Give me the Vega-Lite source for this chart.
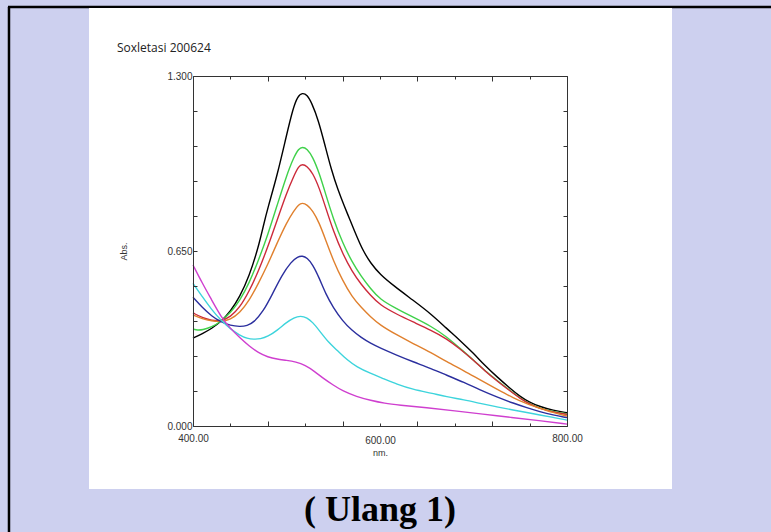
{
  "$schema": "https://vega.github.io/schema/vega-lite/v6.json",
  "width": 374,
  "height": 350,
  "autosize": "none",
  "padding": {"left": 193, "top": 76, "right": 204, "bottom": 106},
  "background": "#cdd0ef",
  "config": {"view": {"stroke": null}},
  "datasets": {
    "spectra": [
      {"series": "hitam", "nm": 400, "abs": 0.326}, {"series": "hitam", "nm": 410, "abs": 0.343}, {"series": "hitam", "nm": 420, "abs": 0.362}, {"series": "hitam", "nm": 430, "abs": 0.388}, {"series": "hitam", "nm": 440, "abs": 0.425}, {"series": "hitam", "nm": 450, "abs": 0.48}, {"series": "hitam", "nm": 460, "abs": 0.555}, {"series": "hitam", "nm": 470, "abs": 0.665}, {"series": "hitam", "nm": 475, "abs": 0.74}, {"series": "hitam", "nm": 480, "abs": 0.81}, {"series": "hitam", "nm": 490, "abs": 0.93}, {"series": "hitam", "nm": 500, "abs": 1.08}, {"series": "hitam", "nm": 507, "abs": 1.18}, {"series": "hitam", "nm": 512, "abs": 1.225}, {"series": "hitam", "nm": 517, "abs": 1.238}, {"series": "hitam", "nm": 522, "abs": 1.23}, {"series": "hitam", "nm": 527, "abs": 1.2}, {"series": "hitam", "nm": 534, "abs": 1.137}, {"series": "hitam", "nm": 541, "abs": 1.045}, {"series": "hitam", "nm": 548, "abs": 0.951}, {"series": "hitam", "nm": 555, "abs": 0.877}, {"series": "hitam", "nm": 562, "abs": 0.815}, {"series": "hitam", "nm": 568, "abs": 0.765}, {"series": "hitam", "nm": 575, "abs": 0.705}, {"series": "hitam", "nm": 582, "abs": 0.65}, {"series": "hitam", "nm": 590, "abs": 0.605}, {"series": "hitam", "nm": 600, "abs": 0.563}, {"series": "hitam", "nm": 615, "abs": 0.52}, {"series": "hitam", "nm": 635, "abs": 0.468}, {"series": "hitam", "nm": 655, "abs": 0.415}, {"series": "hitam", "nm": 671, "abs": 0.363}, {"series": "hitam", "nm": 685, "abs": 0.32}, {"series": "hitam", "nm": 700, "abs": 0.27}, {"series": "hitam", "nm": 712, "abs": 0.225}, {"series": "hitam", "nm": 725, "abs": 0.183}, {"series": "hitam", "nm": 738, "abs": 0.143}, {"series": "hitam", "nm": 750, "abs": 0.109}, {"series": "hitam", "nm": 760, "abs": 0.088}, {"series": "hitam", "nm": 771, "abs": 0.072}, {"series": "hitam", "nm": 785, "abs": 0.058}, {"series": "hitam", "nm": 800, "abs": 0.049},

      {"series": "hijau", "nm": 400, "abs": 0.36}, {"series": "hijau", "nm": 405, "abs": 0.356}, {"series": "hijau", "nm": 410, "abs": 0.357}, {"series": "hijau", "nm": 420, "abs": 0.367}, {"series": "hijau", "nm": 430, "abs": 0.388}, {"series": "hijau", "nm": 440, "abs": 0.42}, {"series": "hijau", "nm": 450, "abs": 0.465}, {"series": "hijau", "nm": 460, "abs": 0.53}, {"series": "hijau", "nm": 470, "abs": 0.615}, {"series": "hijau", "nm": 480, "abs": 0.71}, {"series": "hijau", "nm": 490, "abs": 0.82}, {"series": "hijau", "nm": 500, "abs": 0.93}, {"series": "hijau", "nm": 508, "abs": 1.0}, {"series": "hijau", "nm": 513, "abs": 1.03}, {"series": "hijau", "nm": 517, "abs": 1.037}, {"series": "hijau", "nm": 522, "abs": 1.03}, {"series": "hijau", "nm": 528, "abs": 1.0}, {"series": "hijau", "nm": 535, "abs": 0.94}, {"series": "hijau", "nm": 542, "abs": 0.86}, {"series": "hijau", "nm": 550, "abs": 0.77}, {"series": "hijau", "nm": 560, "abs": 0.68}, {"series": "hijau", "nm": 570, "abs": 0.61}, {"series": "hijau", "nm": 580, "abs": 0.555}, {"series": "hijau", "nm": 590, "abs": 0.51}, {"series": "hijau", "nm": 600, "abs": 0.47}, {"series": "hijau", "nm": 618, "abs": 0.435}, {"series": "hijau", "nm": 635, "abs": 0.405}, {"series": "hijau", "nm": 655, "abs": 0.37}, {"series": "hijau", "nm": 671, "abs": 0.332}, {"series": "hijau", "nm": 685, "abs": 0.29}, {"series": "hijau", "nm": 700, "abs": 0.245}, {"series": "hijau", "nm": 712, "abs": 0.205}, {"series": "hijau", "nm": 725, "abs": 0.17}, {"series": "hijau", "nm": 738, "abs": 0.135}, {"series": "hijau", "nm": 750, "abs": 0.103}, {"series": "hijau", "nm": 760, "abs": 0.083}, {"series": "hijau", "nm": 771, "abs": 0.066}, {"series": "hijau", "nm": 785, "abs": 0.053}, {"series": "hijau", "nm": 800, "abs": 0.045},

      {"series": "merah", "nm": 400, "abs": 0.42}, {"series": "merah", "nm": 410, "abs": 0.402}, {"series": "merah", "nm": 420, "abs": 0.392}, {"series": "merah", "nm": 430, "abs": 0.39}, {"series": "merah", "nm": 440, "abs": 0.405}, {"series": "merah", "nm": 450, "abs": 0.44}, {"series": "merah", "nm": 460, "abs": 0.5}, {"series": "merah", "nm": 470, "abs": 0.575}, {"series": "merah", "nm": 480, "abs": 0.665}, {"series": "merah", "nm": 490, "abs": 0.765}, {"series": "merah", "nm": 500, "abs": 0.865}, {"series": "merah", "nm": 508, "abs": 0.93}, {"series": "merah", "nm": 513, "abs": 0.965}, {"series": "merah", "nm": 517, "abs": 0.973}, {"series": "merah", "nm": 522, "abs": 0.965}, {"series": "merah", "nm": 528, "abs": 0.94}, {"series": "merah", "nm": 535, "abs": 0.885}, {"series": "merah", "nm": 542, "abs": 0.81}, {"series": "merah", "nm": 550, "abs": 0.725}, {"series": "merah", "nm": 560, "abs": 0.64}, {"series": "merah", "nm": 570, "abs": 0.575}, {"series": "merah", "nm": 580, "abs": 0.525}, {"series": "merah", "nm": 590, "abs": 0.485}, {"series": "merah", "nm": 600, "abs": 0.449}, {"series": "merah", "nm": 618, "abs": 0.415}, {"series": "merah", "nm": 635, "abs": 0.387}, {"series": "merah", "nm": 655, "abs": 0.355}, {"series": "merah", "nm": 671, "abs": 0.325}, {"series": "merah", "nm": 685, "abs": 0.288}, {"series": "merah", "nm": 700, "abs": 0.245}, {"series": "merah", "nm": 712, "abs": 0.205}, {"series": "merah", "nm": 725, "abs": 0.168}, {"series": "merah", "nm": 738, "abs": 0.133}, {"series": "merah", "nm": 750, "abs": 0.102}, {"series": "merah", "nm": 760, "abs": 0.082}, {"series": "merah", "nm": 771, "abs": 0.065}, {"series": "merah", "nm": 785, "abs": 0.052}, {"series": "merah", "nm": 800, "abs": 0.043},

      {"series": "oranye", "nm": 400, "abs": 0.412}, {"series": "oranye", "nm": 410, "abs": 0.398}, {"series": "oranye", "nm": 420, "abs": 0.39}, {"series": "oranye", "nm": 430, "abs": 0.387}, {"series": "oranye", "nm": 440, "abs": 0.395}, {"series": "oranye", "nm": 450, "abs": 0.42}, {"series": "oranye", "nm": 460, "abs": 0.465}, {"series": "oranye", "nm": 470, "abs": 0.53}, {"series": "oranye", "nm": 480, "abs": 0.6}, {"series": "oranye", "nm": 490, "abs": 0.68}, {"series": "oranye", "nm": 500, "abs": 0.755}, {"series": "oranye", "nm": 508, "abs": 0.8}, {"series": "oranye", "nm": 513, "abs": 0.823}, {"series": "oranye", "nm": 517, "abs": 0.829}, {"series": "oranye", "nm": 522, "abs": 0.822}, {"series": "oranye", "nm": 528, "abs": 0.8}, {"series": "oranye", "nm": 535, "abs": 0.755}, {"series": "oranye", "nm": 542, "abs": 0.69}, {"series": "oranye", "nm": 550, "abs": 0.615}, {"series": "oranye", "nm": 560, "abs": 0.54}, {"series": "oranye", "nm": 570, "abs": 0.48}, {"series": "oranye", "nm": 580, "abs": 0.44}, {"series": "oranye", "nm": 590, "abs": 0.405}, {"series": "oranye", "nm": 600, "abs": 0.375}, {"series": "oranye", "nm": 618, "abs": 0.338}, {"series": "oranye", "nm": 635, "abs": 0.307}, {"series": "oranye", "nm": 655, "abs": 0.272}, {"series": "oranye", "nm": 671, "abs": 0.239}, {"series": "oranye", "nm": 690, "abs": 0.205}, {"series": "oranye", "nm": 707, "abs": 0.171}, {"series": "oranye", "nm": 725, "abs": 0.137}, {"series": "oranye", "nm": 743, "abs": 0.103}, {"series": "oranye", "nm": 757, "abs": 0.082}, {"series": "oranye", "nm": 771, "abs": 0.066}, {"series": "oranye", "nm": 785, "abs": 0.05}, {"series": "oranye", "nm": 800, "abs": 0.037},

      {"series": "biru", "nm": 400, "abs": 0.478}, {"series": "biru", "nm": 410, "abs": 0.44}, {"series": "biru", "nm": 420, "abs": 0.408}, {"series": "biru", "nm": 430, "abs": 0.386}, {"series": "biru", "nm": 440, "abs": 0.373}, {"series": "biru", "nm": 450, "abs": 0.369}, {"series": "biru", "nm": 458, "abs": 0.372}, {"series": "biru", "nm": 465, "abs": 0.385}, {"series": "biru", "nm": 475, "abs": 0.425}, {"series": "biru", "nm": 485, "abs": 0.49}, {"series": "biru", "nm": 495, "abs": 0.56}, {"series": "biru", "nm": 505, "abs": 0.61}, {"series": "biru", "nm": 512, "abs": 0.629}, {"series": "biru", "nm": 517, "abs": 0.632}, {"series": "biru", "nm": 522, "abs": 0.625}, {"series": "biru", "nm": 528, "abs": 0.6}, {"series": "biru", "nm": 535, "abs": 0.55}, {"series": "biru", "nm": 542, "abs": 0.49}, {"series": "biru", "nm": 550, "abs": 0.44}, {"series": "biru", "nm": 560, "abs": 0.39}, {"series": "biru", "nm": 570, "abs": 0.355}, {"series": "biru", "nm": 580, "abs": 0.328}, {"series": "biru", "nm": 590, "abs": 0.307}, {"series": "biru", "nm": 600, "abs": 0.29}, {"series": "biru", "nm": 618, "abs": 0.263}, {"series": "biru", "nm": 635, "abs": 0.239}, {"series": "biru", "nm": 655, "abs": 0.213}, {"series": "biru", "nm": 671, "abs": 0.189}, {"series": "biru", "nm": 690, "abs": 0.162}, {"series": "biru", "nm": 707, "abs": 0.134}, {"series": "biru", "nm": 725, "abs": 0.108}, {"series": "biru", "nm": 743, "abs": 0.084}, {"series": "biru", "nm": 757, "abs": 0.068}, {"series": "biru", "nm": 771, "abs": 0.053}, {"series": "biru", "nm": 785, "abs": 0.041}, {"series": "biru", "nm": 800, "abs": 0.031},

      {"series": "sian", "nm": 400, "abs": 0.53}, {"series": "sian", "nm": 410, "abs": 0.48}, {"series": "sian", "nm": 420, "abs": 0.432}, {"series": "sian", "nm": 430, "abs": 0.392}, {"series": "sian", "nm": 440, "abs": 0.36}, {"series": "sian", "nm": 450, "abs": 0.337}, {"series": "sian", "nm": 458, "abs": 0.325}, {"series": "sian", "nm": 465, "abs": 0.322}, {"series": "sian", "nm": 472, "abs": 0.323}, {"series": "sian", "nm": 480, "abs": 0.332}, {"series": "sian", "nm": 490, "abs": 0.355}, {"series": "sian", "nm": 500, "abs": 0.385}, {"series": "sian", "nm": 508, "abs": 0.403}, {"series": "sian", "nm": 515, "abs": 0.409}, {"series": "sian", "nm": 522, "abs": 0.403}, {"series": "sian", "nm": 528, "abs": 0.385}, {"series": "sian", "nm": 535, "abs": 0.355}, {"series": "sian", "nm": 545, "abs": 0.31}, {"series": "sian", "nm": 554, "abs": 0.282}, {"series": "sian", "nm": 565, "abs": 0.245}, {"series": "sian", "nm": 575, "abs": 0.22}, {"series": "sian", "nm": 590, "abs": 0.195}, {"series": "sian", "nm": 603, "abs": 0.177}, {"series": "sian", "nm": 618, "abs": 0.155}, {"series": "sian", "nm": 635, "abs": 0.136}, {"series": "sian", "nm": 655, "abs": 0.122}, {"series": "sian", "nm": 671, "abs": 0.109}, {"series": "sian", "nm": 690, "abs": 0.097}, {"series": "sian", "nm": 707, "abs": 0.084}, {"series": "sian", "nm": 725, "abs": 0.071}, {"series": "sian", "nm": 743, "abs": 0.059}, {"series": "sian", "nm": 757, "abs": 0.05}, {"series": "sian", "nm": 771, "abs": 0.041}, {"series": "sian", "nm": 785, "abs": 0.032}, {"series": "sian", "nm": 800, "abs": 0.022},

      {"series": "magenta", "nm": 400, "abs": 0.598}, {"series": "magenta", "nm": 410, "abs": 0.53}, {"series": "magenta", "nm": 420, "abs": 0.468}, {"series": "magenta", "nm": 430, "abs": 0.405}, {"series": "magenta", "nm": 440, "abs": 0.362}, {"series": "magenta", "nm": 450, "abs": 0.328}, {"series": "magenta", "nm": 460, "abs": 0.297}, {"series": "magenta", "nm": 470, "abs": 0.272}, {"series": "magenta", "nm": 480, "abs": 0.256}, {"series": "magenta", "nm": 490, "abs": 0.248}, {"series": "magenta", "nm": 500, "abs": 0.244}, {"series": "magenta", "nm": 510, "abs": 0.238}, {"series": "magenta", "nm": 520, "abs": 0.226}, {"series": "magenta", "nm": 530, "abs": 0.203}, {"series": "magenta", "nm": 540, "abs": 0.175}, {"series": "magenta", "nm": 550, "abs": 0.152}, {"series": "magenta", "nm": 560, "abs": 0.13}, {"series": "magenta", "nm": 575, "abs": 0.109}, {"series": "magenta", "nm": 590, "abs": 0.095}, {"series": "magenta", "nm": 605, "abs": 0.084}, {"series": "magenta", "nm": 620, "abs": 0.078}, {"series": "magenta", "nm": 650, "abs": 0.068}, {"series": "magenta", "nm": 680, "abs": 0.056}, {"series": "magenta", "nm": 710, "abs": 0.044}, {"series": "magenta", "nm": 740, "abs": 0.032}, {"series": "magenta", "nm": 770, "abs": 0.02}, {"series": "magenta", "nm": 800, "abs": 0.007}
    ]
  },
  "layer": [
    {
      "data": {"values": [{}]},
      "mark": {"type": "rule", "color": "#000000", "strokeWidth": 2.5},
      "encoding": {
        "x": {"datum": 202.1, "type": "quantitative", "scale": {"domain": [400, 800], "nice": false, "zero": false}, "axis": null},
        "x2": {"datum": 1018.2},
        "y": {"datum": 1.5563, "type": "quantitative", "scale": {"domain": [0, 1.3], "nice": false, "zero": false}, "axis": null}
      }
    },
    {
      "data": {"values": [{}]},
      "mark": {"type": "rule", "color": "#000000", "strokeWidth": 2.5},
      "encoding": {
        "x": {"datum": 203.2, "type": "quantitative", "scale": {"domain": [400, 800], "nice": false, "zero": false}, "axis": null},
        "y": {"datum": 1.5563, "type": "quantitative", "scale": {"domain": [0, 1.3], "nice": false, "zero": false}, "axis": null},
        "y2": {"datum": -0.394}
      }
    },
    {
      "data": {"values": [{}]},
      "mark": {"type": "rect", "color": "#ffffff"},
      "encoding": {
        "x": {"datum": 288.77, "type": "quantitative", "scale": {"domain": [400, 800], "nice": false, "zero": false}, "axis": null},
        "x2": {"datum": 912.3},
        "y": {"datum": 1.5526, "type": "quantitative", "scale": {"domain": [0, 1.3], "nice": false, "zero": false}, "axis": null},
        "y2": {"datum": -0.234}
      }
    },
    {
      "data": {"values": [{}]},
      "mark": {"type": "text", "text": "( Ulang 1)", "font": "Liberation Serif", "fontSize": 36, "fontWeight": "bold", "color": "#000000", "align": "center", "baseline": "alphabetic"},
      "encoding": {
        "x": {"datum": 600, "type": "quantitative", "scale": {"domain": [400, 800], "nice": false, "zero": false}, "axis": null},
        "y": {"datum": -0.3529, "type": "quantitative", "scale": {"domain": [0, 1.3], "nice": false, "zero": false}, "axis": null}
      }
    },
    {
      "data": {"values": [{}]},
      "mark": {"type": "text", "text": "Soxletasi 200624", "font": "Open Sans", "fontSize": 12, "color": "#222222", "align": "left", "baseline": "alphabetic"},
      "encoding": {
        "x": {"datum": 318.7, "type": "quantitative", "scale": {"domain": [400, 800], "nice": false, "zero": false}, "axis": null},
        "y": {"datum": 1.3892, "type": "quantitative", "scale": {"domain": [0, 1.3], "nice": false, "zero": false}, "axis": null}
      }
    },
    {
      "data": {"name": "spectra"},
      "mark": {"type": "line", "strokeWidth": 1.4, "interpolate": "basis"},
      "encoding": {
        "x": {"field": "nm", "type": "quantitative", "scale": {"domain": [400, 800], "nice": false, "zero": false},
          "axis": {"orient": "bottom", "title": "nm.", "zindex": 1, "values": [400, 440, 480, 520, 560, 600, 640, 680, 720, 760, 800],
            "labelExpr": "datum.value % 200 === 0 ? format(datum.value, '.2f') : ''",
            "tickSize": {"condition": {"test": "datum.value % 80 === 0", "value": -5}, "value": -3},
            "labelPadding": 12, "labelFont": "Liberation Sans", "labelFontSize": 10, "labelColor": "#333333",
            "titleFont": "Liberation Sans", "titleFontSize": 9, "titleFontWeight": "normal", "titleColor": "#333333", "titlePadding": 3,
            "domainColor": "#333333", "tickColor": "#333333", "grid": false, "labelFlush": false, "labelOverlap": false}},
        "y": {"field": "abs", "type": "quantitative", "scale": {"domain": [0, 1.3], "nice": false, "zero": false},
          "axis": {"orient": "left", "title": "Abs.", "zindex": 1, "values": [0, 0.13, 0.26, 0.39, 0.52, 0.65, 0.78, 0.91, 1.04, 1.17, 1.3],
            "labelExpr": "(datum.value === 0 || datum.value === 0.65 || datum.value === 1.3) ? format(datum.value, '.3f') : ''",
            "tickSize": -4, "labelPadding": 5, "labelFont": "Liberation Sans", "labelFontSize": 10, "labelColor": "#333333",
            "titleFont": "Liberation Sans", "titleFontSize": 9, "titleFontWeight": "normal", "titleColor": "#333333", "titlePadding": 38,
            "domainColor": "#333333", "tickColor": "#333333", "grid": false, "labelFlush": false, "labelOverlap": false}},
        "color": {"field": "series", "type": "nominal", "legend": null,
          "scale": {"domain": ["hitam", "hijau", "merah", "oranye", "biru", "sian", "magenta"],
            "range": ["#000000", "#3fd14a", "#cc2a3a", "#e0802e", "#2b2f9e", "#3dd4dc", "#cf3fcf"]}}
      }
    },
    {
      "data": {"name": "spectra"},
      "mark": {"type": "point", "opacity": 0},
      "encoding": {
        "x": {"field": "nm", "type": "quantitative", "scale": {"domain": [400, 800], "nice": false, "zero": false},
          "axis": {"orient": "top", "title": null, "labels": false, "zindex": 1, "values": [400, 440, 480, 520, 560, 600, 640, 680, 720, 760, 800],
            "tickSize": {"condition": {"test": "datum.value % 80 === 0", "value": -5}, "value": -3},
            "domainColor": "#333333", "tickColor": "#333333", "grid": false}},
        "y": {"field": "abs", "type": "quantitative", "scale": {"domain": [0, 1.3], "nice": false, "zero": false},
          "axis": {"orient": "right", "title": null, "labels": false, "zindex": 1, "values": [0, 0.13, 0.26, 0.39, 0.52, 0.65, 0.78, 0.91, 1.04, 1.17, 1.3],
            "tickSize": -4, "domainColor": "#333333", "tickColor": "#333333", "grid": false}}
      }
    }
  ],
  "resolve": {"axis": {"x": "independent", "y": "independent"}}
}
